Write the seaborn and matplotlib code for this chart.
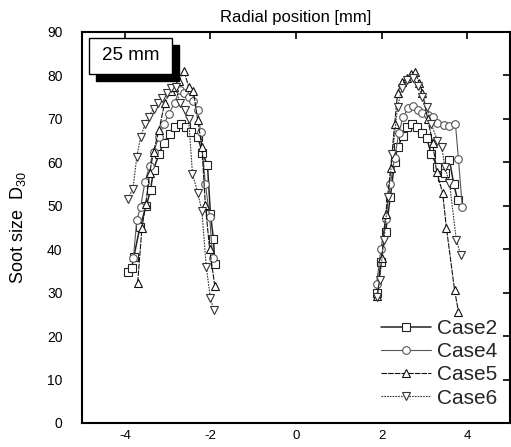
import matplotlib
matplotlib.use("Agg")
import matplotlib.pyplot as plt
from matplotlib.lines import Line2D
from matplotlib.patches import Rectangle
import seaborn as sns
import pandas as pd

sns.set_theme(style="white")
plt.rcParams['font.family'] = ['Liberation Sans', 'DejaVu Sans']

cases = ["Case2", "Case4", "Case5", "Case6"]

# Left side (negative radial positions)
case2_left_x = [-3.93, -3.84, -3.79, -3.65, -3.5, -3.4, -3.33, -3.2, -3.09, -2.95, -2.84, -2.7, -2.58, -2.45, -2.3, -2.19, -2.07, -2.0, -1.93, -1.9]
case2_left_y = [34.8, 35.7, 38.2, 45, 50, 53.5, 58.3, 62, 64.5, 66.5, 68.2, 68.7, 68, 67, 65.9, 62.2, 59.3, 48, 42.3, 36.6]
case4_left_x = [-3.8, -3.72, -3.63, -3.53, -3.42, -3.33, -3.2, -3.09, -2.98, -2.84, -2.72, -2.63, -2.5, -2.4, -2.3, -2.23, -2.12, -2.02, -1.95]
case4_left_y = [38, 46.8, 49.8, 55.5, 59.2, 62.4, 65.9, 68.7, 71, 73.7, 76.7, 76, 75, 74, 72.1, 67, 55, 47.5, 38]
case5_left_x = [-3.7, -3.6, -3.51, -3.42, -3.33, -3.2, -3.07, -2.93, -2.86, -2.74, -2.62, -2.51, -2.4, -2.3, -2.2, -2.12, -2.02, -1.9]
case5_left_y = [32.3, 44.9, 50.5, 57.6, 62.4, 67.5, 73.7, 76.3, 77.4, 78.8, 81, 77.4, 76.4, 69.8, 63.5, 50.2, 40, 31.6]
case6_left_x = [-3.93, -3.81, -3.72, -3.63, -3.53, -3.44, -3.33, -3.23, -3.14, -3.02, -2.93, -2.81, -2.72, -2.6, -2.51, -2.42, -2.3, -2.2, -2.1, -2.0, -1.92]
case6_left_y = [51.6, 53.9, 61.3, 65.9, 68.7, 70.5, 72.3, 73.7, 74.7, 76, 77, 77.2, 73.7, 72, 70, 57.3, 53, 48.8, 36, 28.7, 25.9]

# Right side (positive radial positions)
case2_right_x = [1.88, 1.98, 2.09, 2.2, 2.3, 2.37, 2.5, 2.6, 2.7, 2.82, 2.95, 3.05, 3.15, 3.3, 3.4, 3.47, 3.58, 3.68, 3.77]
case2_right_y = [30, 37, 44, 52, 60.1, 63.6, 66, 68, 68.7, 68, 66.8, 65.6, 62, 59, 56.5, 57.6, 60.6, 55, 51.4]
case4_right_x = [1.88, 1.98, 2.09, 2.2, 2.3, 2.4, 2.5, 2.62, 2.72, 2.85, 2.95, 3.07, 3.19, 3.3, 3.45, 3.58, 3.72, 3.79, 3.88]
case4_right_y = [32, 40, 47, 55, 61, 66.8, 70.5, 72.5, 73, 72, 71.4, 70.8, 70.5, 69.1, 68.5, 68.4, 68.9, 60.8, 49.8]
case5_right_x = [1.9, 2.0, 2.09, 2.21, 2.3, 2.37, 2.47, 2.58, 2.68, 2.77, 2.88, 2.95, 3.07, 3.19, 3.28, 3.42, 3.51, 3.7, 3.79]
case5_right_y = [29.3, 38, 48, 58.7, 68.7, 76, 78.5, 79.5, 80.2, 80.7, 78.3, 76, 70, 64.5, 57.8, 53, 44.9, 30.6, 25.6]
case6_right_x = [1.88, 1.95, 2.05, 2.15, 2.25, 2.37, 2.47, 2.6, 2.72, 2.85, 2.95, 3.05, 3.16, 3.3, 3.4, 3.47, 3.58, 3.74, 3.84]
case6_right_y = [29, 33, 42, 52, 62, 72.8, 77, 79, 79.5, 77.5, 75, 72.8, 68.7, 65, 63.6, 59, 55.3, 42.2, 38.7]

x_ticks = [-4, -2, 0, 2, 4]
y_ticks = [0, 10, 20, 30, 40, 50, 60, 70, 80, 90]

series = {
    "Case2": [(case2_left_x, case2_left_y), (case2_right_x, case2_right_y)],
    "Case4": [(case4_left_x, case4_left_y), (case4_right_x, case4_right_y)],
    "Case5": [(case5_left_x, case5_left_y), (case5_right_x, case5_right_y)],
    "Case6": [(case6_left_x, case6_left_y), (case6_right_x, case6_right_y)],
}

styles = {
    "Case2": dict(marker="s", color="#222222", ls="-", lw=1.1),
    "Case4": dict(marker="o", color="#555555", ls="-", lw=0.8),
    "Case5": dict(marker="^", color="#111111", ls=(0, (5, 1)), lw=0.8),
    "Case6": dict(marker="v", color="#333333", ls=(0, (1.5, 1)), lw=0.8),
}

fig = plt.figure(figsize=(5.11, 4.47), dpi=100)
ax = fig.add_axes([0.1605, 0.0537, 0.838, 0.875])

for name in cases:
    st = styles[name]
    for side, (xs, ys) in enumerate(series[name]):
        df = pd.DataFrame({"x": xs, "y": ys})
        sns.lineplot(data=df, x="x", y="y", ax=ax, sort=False, estimator=None,
                     color=st["color"], linestyle=st["ls"], linewidth=st["lw"],
                     marker=st["marker"], markersize=5.5, markerfacecolor="white",
                     markeredgecolor=st["color"], markeredgewidth=0.8)

ax.set_xlim(-5, 5)
ax.set_ylim(0, 90)
ax.set_xticks(x_ticks)
ax.set_yticks(y_ticks)
ax.set_xticklabels([str(t) for t in x_ticks])
ax.set_yticklabels([str(t) for t in y_ticks])
ax.set_xlabel("")
ax.set_ylabel("Soot size  $\\mathregular{D_{30}}$", fontsize=13, color="black", labelpad=14)
ax.set_title("Radial position [mm]", fontsize=12, pad=7, color="black")

ax.tick_params(axis="both", which="major", direction="in", length=5, width=1.2,
               top=True, right=True, labelsize=10, colors="black")
ax.tick_params(axis="y", pad=14)
ax.tick_params(axis="x", pad=5, labelsize=9.5)
for s in ax.spines.values():
    s.set_visible(True)
    s.set_color("black")
    s.set_linewidth(1.5)

# "25 mm" label box with shadow
ax.add_patch(Rectangle((0.0164 + 0.016, 0.893 - 0.0179), 0.194, 0.092,
                       transform=ax.transAxes, facecolor="black", edgecolor="black",
                       zorder=5, clip_on=False))
ax.add_patch(Rectangle((0.016, 0.893), 0.194, 0.092, transform=ax.transAxes,
                       facecolor="white", edgecolor="black", linewidth=1.0,
                       zorder=6, clip_on=False))
ax.text(0.113, 0.939, "25 mm", transform=ax.transAxes, ha="center", va="center",
        fontsize=13.5, color="black", zorder=7)

handles = [Line2D([], [], color=styles[n]["color"], ls=styles[n]["ls"], lw=styles[n]["lw"],
                  marker=styles[n]["marker"], markersize=5.5, markerfacecolor="white",
                  markeredgecolor=styles[n]["color"], markeredgewidth=0.8) for n in cases]
ax.legend(handles, cases, loc="lower right", bbox_to_anchor=(0.99, 0.018),
          frameon=False, fontsize=15, handlelength=2.4, handletextpad=0.3,
          labelspacing=0.2, borderaxespad=0, numpoints=1)

fig.savefig("out.png", dpi=100)
